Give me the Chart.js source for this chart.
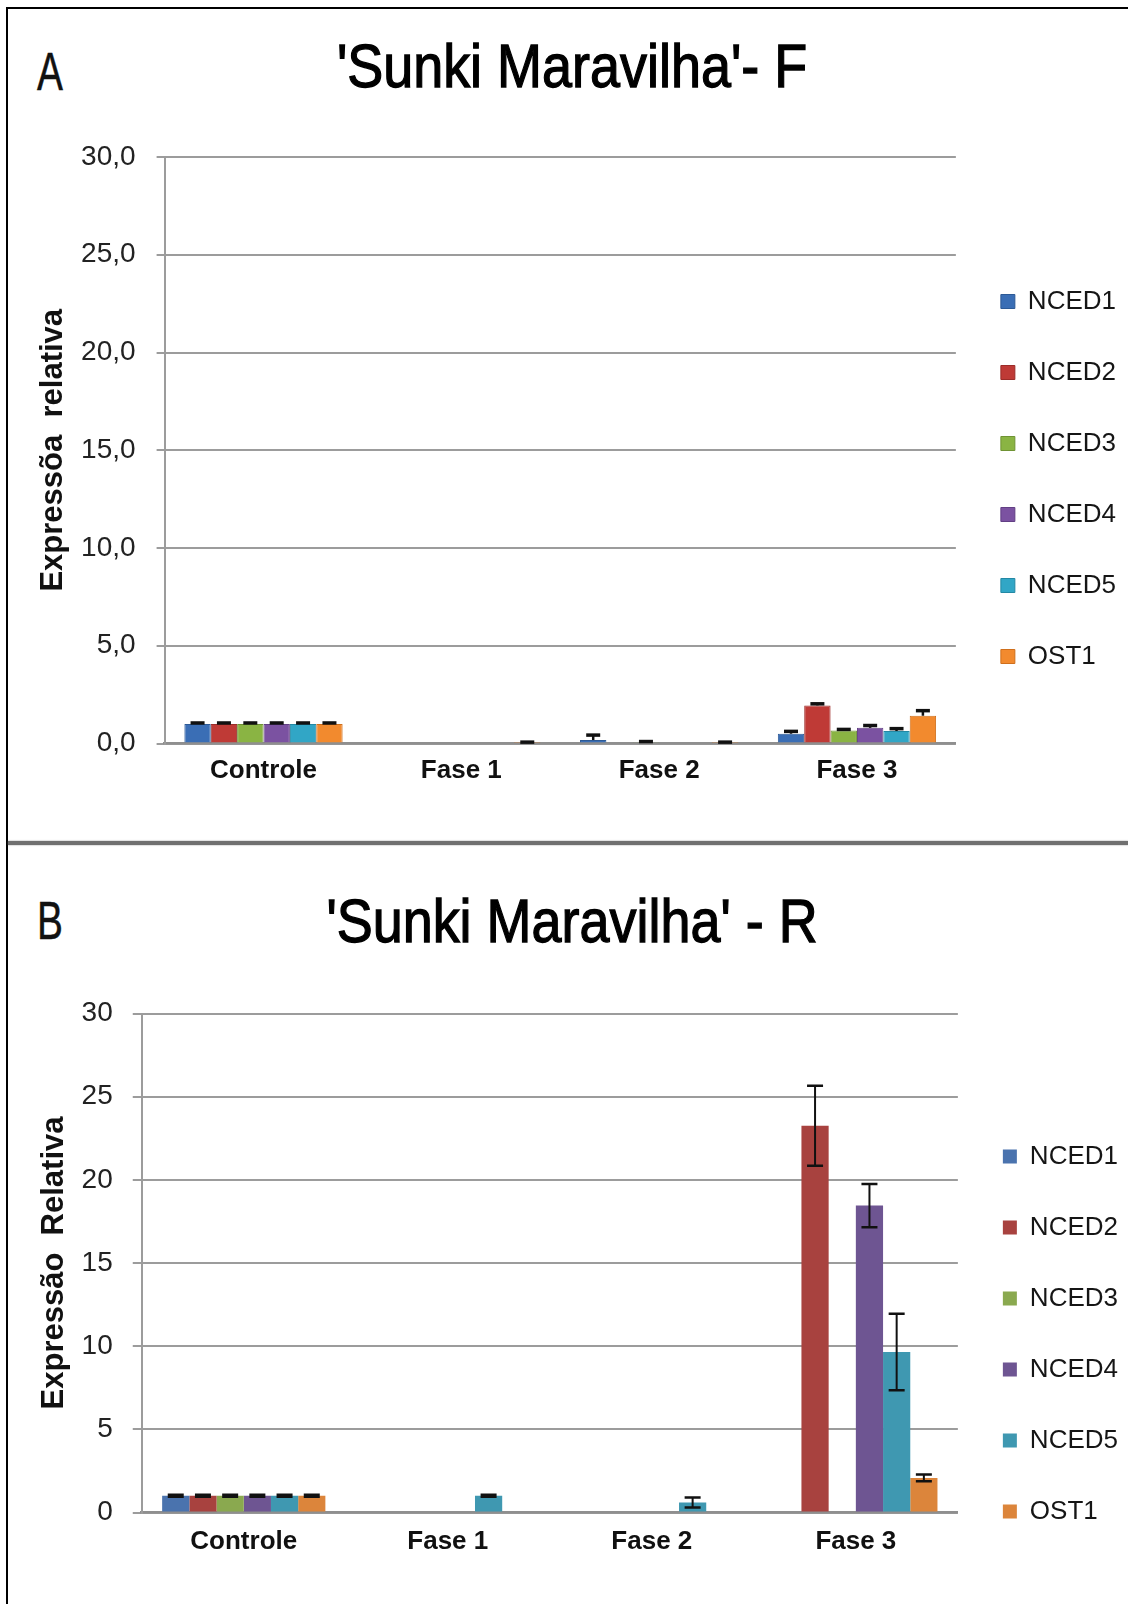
<!DOCTYPE html>
<html>
<head>
<meta charset="utf-8">
<script src="https://cdn.jsdelivr.net/npm/chart.js@4.4.1/dist/chart.umd.min.js"></script>
<style>
  html, body { margin: 0; padding: 0; background: #fff; width: 1128px; height: 1604px; overflow: hidden; }
  #page { position: relative; width: 1128px; height: 1604px; overflow: hidden; }
  .frame { position: absolute; left: 6px; top: 7px; right: -10px; bottom: -10px;
           border-left: 2.5px solid #000; border-top: 2.5px solid #000; }
  .sep { position: absolute; left: 8px; right: 0; top: 841px; height: 4px; background: #707070;
         box-shadow: 0 0 1.5px #707070; }
  .letter { position: absolute; left: 37px; font-family: "Liberation Sans", Arial, sans-serif;
            font-size: 54px; line-height: 1; color: #111; transform-origin: left top; transform: scaleX(0.72);
            -webkit-text-stroke: 0.5px #111; }
  .title { position: absolute; left: 572px; white-space: nowrap; font-family: "Liberation Sans", Arial, sans-serif;
           font-size: 62px; line-height: 1; color: #000; transform-origin: center top;
           transform: translateX(-50%) scaleX(0.87); -webkit-text-stroke: 1.3px #000; }
  canvas { position: absolute; left: 0; }
</style>
</head>
<body>
<div id="page">
  <div class="frame"></div>
  <div class="sep"></div>

  <div class="letter" style="top:44px">A</div>
  <div class="title" style="top:35px">'Sunki Maravilha'- F</div>
  <canvas id="chartF" width="1128" height="733" style="top:110px"></canvas>

  <div class="letter" style="top:893px">B</div>
  <div class="title" style="top:890px">'Sunki Maravilha' - R</div>
  <canvas id="chartR" width="1128" height="644" style="top:960px"></canvas>
</div>

<script>
// Sampling stages and genes
const categories = ['Controle', 'Fase 1', 'Fase 2', 'Fase 3'];
const genes = ['NCED1', 'NCED2', 'NCED3', 'NCED4', 'NCED5', 'OST1'];

// Y axis range and step (both panels)
const yMin = 0;
const yMax = 30;
const yStep = 5;

// Panel A - leaves (F): relative expression
const fNCED1 = [1.00, 0.00, 0.18, 0.50];
const fNCED2 = [1.00, 0.00, 0.00, 1.95];
const fNCED3 = [1.00, 0.00, 0.07, 0.66];
const fNCED4 = [1.00, 0.00, 0.00, 0.80];
const fNCED5 = [1.00, 0.00, 0.00, 0.64];
const fOST1  = [1.00, 0.02, 0.02, 1.42];

// Panel A - standard errors
const fErrNCED1 = [0.05, 0.00, 0.25, 0.12];
const fErrNCED2 = [0.05, 0.00, 0.00, 0.08];
const fErrNCED3 = [0.05, 0.00, 0.03, 0.06];
const fErrNCED4 = [0.05, 0.00, 0.00, 0.12];
const fErrNCED5 = [0.05, 0.00, 0.00, 0.12];
const fErrOST1  = [0.05, 0.05, 0.05, 0.26];

// Panel B - roots (R): relative expression
const rNCED1 = [1.00, 0.00, 0.00, 0.00];
const rNCED2 = [1.00, 0.00, 0.00, 23.25];
const rNCED3 = [1.00, 0.00, 0.00, 0.00];
const rNCED4 = [1.00, 0.00, 0.00, 18.45];
const rNCED5 = [1.00, 1.00, 0.60, 9.65];
const rOST1  = [1.00, 0.00, 0.00, 2.08];

// Panel B - standard errors
const rErrNCED1 = [0.06, 0.00, 0.00, 0.00];
const rErrNCED2 = [0.06, 0.00, 0.00, 2.40];
const rErrNCED3 = [0.06, 0.00, 0.00, 0.00];
const rErrNCED4 = [0.06, 0.00, 0.00, 1.30];
const rErrNCED5 = [0.06, 0.06, 0.30, 2.30];
const rErrOST1  = [0.06, 0.00, 0.00, 0.20];

const colorsF = ['#3a6eb5', '#bf3a36', '#8ab443', '#7b52a1', '#31a6c6', '#f28a2e'];
const edgesF  = ['#2d5a96', '#9c2c29', '#6f9334', '#623f84', '#2388a4', '#cf6f1c'];
const colorsR = ['#4a73ae', '#a8423f', '#8aa94f', '#6e5592', '#3f98b1', '#dc853b'];

const FONT = '"Liberation Sans", Arial, sans-serif';

// Vertical error bars drawn through the y scale
const errorBars = {
  id: 'errorBars',
  afterDatasetsDraw(chart, args, opts) {
    const ctx = chart.ctx;
    const y = chart.scales.y;
    ctx.save();
    ctx.strokeStyle = opts.color;
    chart.data.datasets.forEach((ds, i) => {
      const meta = chart.getDatasetMeta(i);
      if (meta.hidden || !ds.errors) return;
      meta.data.forEach((bar, j) => {
        const e = ds.errors[j];
        if (!e) return;
        const v = ds.data[j];
        const yTop = y.getPixelForValue(v + e);
        const yBot = y.getPixelForValue(opts.plusOnly ? v : Math.max(0, v - e));
        const x = bar.x;
        ctx.lineWidth = opts.stemWidth;
        ctx.beginPath();
        ctx.moveTo(x, yTop);
        ctx.lineTo(x, yBot);
        ctx.stroke();
        ctx.lineWidth = opts.capWidth;
        ctx.beginPath();
        ctx.moveTo(x - opts.capHalf, yTop);
        ctx.lineTo(x + opts.capHalf, yTop);
        if (!opts.plusOnly) {
          ctx.moveTo(x - opts.capHalf, yBot);
          ctx.lineTo(x + opts.capHalf, yBot);
        }
        ctx.stroke();
      });
    });
    ctx.restore();
  }
};

// Moves the legend column vertically by a fixed amount
const legendShift = {
  id: 'legendShift',
  afterLayout(chart, args, opts) {
    const lg = chart.legend;
    if (!lg || !opts.dy) return;
    lg.top += opts.dy;
    lg.bottom += opts.dy;
  }
};

function makeChart(id, values, errors, colors, edges, opt) {
  const datasets = genes.map((g, i) => ({
    label: g,
    data: values[i],
    errors: errors[i],
    backgroundColor: colors[i],
    borderColor: edges ? edges[i] : colors[i],
    borderWidth: edges ? 1 : 0,
    categoryPercentage: 0.8,
    barPercentage: 1.0
  }));
  return new Chart(document.getElementById(id), {
    type: 'bar',
    data: { labels: categories, datasets },
    plugins: [errorBars, legendShift],
    options: {
      responsive: false,
      animation: false,
      devicePixelRatio: 1,
      layout: { padding: opt.padding },
      plugins: {
        tooltip: { enabled: false },
        legend: {
          position: 'right',
          align: 'center',
          labels: {
            boxWidth: 14, boxHeight: 14, padding: 45, color: '#151515',
            font: { family: FONT, size: 26 }
          }
        },
        legendShift: { dy: opt.legendDy },
        errorBars: {
          color: '#111', plusOnly: opt.plusOnly, capHalf: opt.capHalf,
          capWidth: opt.capWidth, stemWidth: opt.stemWidth
        }
      },
      scales: {
        x: {
          grid: { display: false, drawTicks: false },
          border: { display: true, color: '#8f8f8f', width: 2.5 },
          ticks: { padding: opt.xPad, color: '#111', font: { family: FONT, size: 26, weight: 'bold' } }
        },
        y: {
          min: yMin, max: yMax,
          ticks: {
            stepSize: yStep, padding: opt.yPad, color: '#222',
            font: { family: FONT, size: 28 },
            callback: opt.tickFormat
          },
          grid: { color: '#9c9c9c', lineWidth: 2, tickLength: opt.tickLen, drawTicks: true },
          border: { display: true, color: '#9c9c9c', width: 2 },
          title: {
            display: true, text: opt.yTitle, color: '#111',
            font: { family: FONT, size: 31, weight: 'bold', lineHeight: 0.4 },
            padding: opt.titlePad
          }
        }
      }
    }
  });
}

makeChart('chartF',
  [fNCED1, fNCED2, fNCED3, fNCED4, fNCED5, fOST1],
  [fErrNCED1, fErrNCED2, fErrNCED3, fErrNCED4, fErrNCED5, fErrOST1],
  colorsF, edgesF,
  {
    padding: { left: 12, right: 2, top: 47, bottom: 45.3 },
    legendDy: 1.65, plusOnly: true, capHalf: 7, capWidth: 3.5, stemWidth: 2.5,
    xPad: 11.5, yPad: 21, tickLen: 8,
    titlePad: { top: 35.5, bottom: 0.2 },
    yTitle: 'Expressõa  relativa',
    tickFormat: v => v.toFixed(1).replace('.', ',')
  });

makeChart('chartR',
  [rNCED1, rNCED2, rNCED3, rNCED4, rNCED5, rOST1],
  [rErrNCED1, rErrNCED2, rErrNCED3, rErrNCED4, rErrNCED5, rErrOST1],
  colorsR, null,
  {
    padding: { left: 20, right: 0, top: 53.5, bottom: 33.3 },
    legendDy: 41.9, plusOnly: false, capHalf: 8, capWidth: 2.5, stemWidth: 2,
    xPad: 13.5, yPad: 20, tickLen: 9,
    titlePad: { top: 28.5, bottom: 0.7 },
    yTitle: 'Expressão  Relativa',
    tickFormat: v => String(v)
  });
</script>
</body>
</html>
